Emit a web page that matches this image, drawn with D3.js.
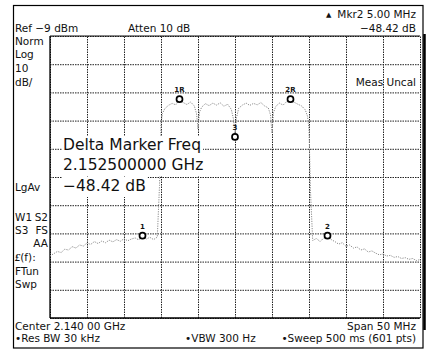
<!DOCTYPE html>
<html><head><meta charset="utf-8">
<script src="https://cdn.jsdelivr.net/npm/d3@7"></script>
<style>
html,body{margin:0;padding:0;background:#fff;}
svg{display:block;}
text{font-family:"DejaVu Sans",sans-serif;fill:#111;}
</style></head>
<body>
<script>
// ---- data ----
const freqTicksMHz = [-25,-20,-15,-10,-5,0,5,10,15,20,25];
const levelTicksDbm = [-9,-19,-29,-39,-49,-59,-69,-79,-89,-99,-109];
const traceFreqMHz = [
 -25,-24.5,-24,-23.5,-23,-22.5,-22,-21.5,-21,-20.5,-20,-19.5,-19,-18.5,-18,-17.5,-17,-16.5,-16,-15.5,
 -15,-14.5,-14,-13.5,-13,-12.5,-12,-11.5,-11,-10.5,-10.2,-10.0,-9.8,-9.5,-9,-8.5,-8,-7.5,-7,-6.5,
 -6,-5.5,-5.2,-5.0,-4.8,-4.5,-4,-3.5,-3,-2.5,-2,-1.5,-1,-0.5,-0.2,0,0.2,0.5,1,1.5,
 2,2.5,3,3.5,4,4.5,4.8,5.0,5.2,5.5,6,6.5,7,7.5,8,8.5,9,9.5,9.8,10.0,
 10.2,10.5,11,11.5,12,12.5,13,13.5,14,14.5,15,15.5,16,16.5,17,17.5,18,18.5,19,19.5,
 20,20.5,21,21.5,22,22.5,23,23.5,24,24.5,25];
const traceDbm = [
 -87.0,-86.2,-85.4,-85.8,-84.6,-84.9,-83.7,-84.2,-83.1,-83.5,-82.4,-82.9,-81.9,-82.6,-81.7,-82.3,-81.4,-82.0,-81.2,-81.8,
 -80.9,-81.6,-81.0,-80.6,-81.3,-79.8,-81.0,-80.4,-81.2,-80.3,-62.0,-40.0,-36.5,-34.8,-33.6,-32.9,-33.4,-31.4,-32.6,-33.3,
 -32.4,-33.8,-36.5,-42.0,-36.0,-34.2,-33.0,-33.7,-32.8,-33.5,-32.7,-33.9,-33.2,-35.0,-38.5,-44.8,-38.0,-34.6,-33.5,-32.8,
 -33.6,-32.9,-33.4,-32.6,-33.8,-34.5,-37.0,-43.5,-36.2,-34.0,-32.8,-33.5,-32.2,-31.4,-32.5,-33.2,-33.8,-35.2,-37.5,-42.0,
 -64.0,-81.5,-80.8,-81.9,-80.6,-79.8,-81.2,-81.9,-82.8,-82.3,-83.6,-83.1,-84.2,-83.8,-84.9,-84.5,-85.6,-85.2,-86.0,-86.6,
 -86.3,-87.0,-86.8,-87.5,-87.2,-87.9,-87.6,-88.2,-87.9,-88.6,-88.3];
const markerLabels = ["1R","2R","3","1","2"];
const markerFreqMHz = [-7.5, 7.5, 0, -12.5, 12.5];
const markerDbm = [-31.4, -31.4, -44.8, -79.8, -79.8];
const leftLabels = ["Norm","Log","10","dB/"];
const statusLabels = ["LgAv"];
const deltaLines = ["Delta Marker Freq","2.152500000 GHz","\u221248.42 dB"];

// ---- layout ----
const W = 426, H = 350;
const svg = d3.select("body").append("svg").attr("width", W).attr("height", H);
const x = d3.scaleLinear().domain([-25, 25]).range([50, 420]);
const y = d3.scaleLinear().domain([-109, -9]).range([318, 36]);

// outer frame
svg.append("rect").attr("x",13.5).attr("y",5.5).attr("width",409.5).attr("height",342.5)
  .attr("fill","none").attr("stroke","#000").attr("stroke-width",1.2);
svg.append("line").attr("x1",424.5).attr("x2",424.5).attr("y1",34).attr("y2",330)
  .attr("stroke","#000").attr("stroke-width",2.5);

// grid via axes
const grid = svg.append("g");
grid.append("g").attr("transform", `translate(0,${y(-109)})`)
  .call(d3.axisBottom(x).tickValues(freqTicksMHz).tickSize(-(y(-109)-y(-9))).tickFormat(""))
  .call(g => g.select(".domain").remove());
grid.append("g").attr("transform", `translate(${x(-25)},0)`)
  .call(d3.axisLeft(y).tickValues(levelTicksDbm).tickSize(-(x(25)-x(-25))).tickFormat(""))
  .call(g => g.select(".domain").remove());
grid.selectAll(".tick line").attr("stroke","#222").attr("stroke-width",1).attr("stroke-dasharray","1.5,1");
// solid borders left / top / bottom
svg.append("line").attr("x1",x(-25)).attr("x2",x(-25)).attr("y1",y(-9)).attr("y2",y(-109)).attr("stroke","#000").attr("stroke-width",1.3);
svg.append("line").attr("x1",x(-25)).attr("x2",x(25)).attr("y1",y(-9)).attr("y2",y(-9)).attr("stroke","#111").attr("stroke-width",1.2);
svg.append("line").attr("x1",x(-25)).attr("x2",x(25)).attr("y1",y(-109)).attr("y2",y(-109)).attr("stroke","#000").attr("stroke-width",1.3);

// trace
const pts = traceFreqMHz.map((f,i)=>[f, traceDbm[i]]);
svg.append("path").datum(pts)
  .attr("d", d3.line().x(d=>x(d[0])).y(d=>y(d[1])))
  .attr("fill","none").attr("stroke","#8c8c8c").attr("stroke-width",1)
  .attr("stroke-dasharray","1.2,1.2");

// markers
const mk = svg.append("g");
markerLabels.forEach((lab,i)=>{
  const cx = x(markerFreqMHz[i]), cy = y(markerDbm[i]);
  mk.append("circle").attr("cx",cx).attr("cy",cy).attr("r",3)
    .attr("fill","#fff").attr("stroke","#000").attr("stroke-width",1.7);
  mk.append("text").attr("x", cx).attr("y", cy-7).attr("text-anchor","middle")
    .attr("font-size",7).attr("font-weight","bold").text(lab);
});

// header text
const small = 10.5;
svg.append("text").attr("x",15).attr("y",32).attr("font-size",small).text("Ref \u22129 dBm");
svg.append("text").attr("x",128).attr("y",32).attr("font-size",small).text("Atten 10 dB");
svg.append("text").attr("x",416).attr("y",18).attr("font-size",small).attr("text-anchor","end").text("Mkr2  5.00 MHz");
svg.append("text").attr("x",326).attr("y",17).attr("font-size",7).text("\u25B2");
svg.append("text").attr("x",416).attr("y",32).attr("font-size",small).attr("text-anchor","end").text("\u221248.42 dB");
leftLabels.forEach((t,i)=>svg.append("text").attr("x",15).attr("y",[45,58,72,86][i]).attr("font-size",small).text(t));
svg.append("text").attr("x",416).attr("y",86).attr("font-size",small).attr("text-anchor","end").text("Meas Uncal");
svg.append("text").attr("x",15).attr("y",191).attr("font-size",small).text(statusLabels[0]);
svg.append("text").attr("x",15).attr("y",221).attr("font-size",small).text("W1");
svg.append("text").attr("x",48).attr("y",221).attr("font-size",small).attr("text-anchor","end").text("S2");
svg.append("text").attr("x",15).attr("y",234).attr("font-size",small).text("S3");
svg.append("text").attr("x",48).attr("y",234).attr("font-size",small).attr("text-anchor","end").text("FS");
svg.append("text").attr("x",48).attr("y",247).attr("font-size",small).attr("text-anchor","end").text("AA");
svg.append("text").attr("x",15).attr("y",261).attr("font-size",small).html('<tspan font-weight="bold" font-family="Liberation Serif" font-style="italic">\u00A3</tspan>(f):');
svg.append("text").attr("x",15).attr("y",275).attr("font-size",small).text("FTun");
svg.append("text").attr("x",15).attr("y",288).attr("font-size",small).text("Swp");

// footer
svg.append("text").attr("x",15).attr("y",330).attr("font-size",small).text("Center 2.140 00 GHz");
svg.append("text").attr("x",416).attr("y",330).attr("font-size",small).attr("text-anchor","end").text("Span 50 MHz");
svg.append("text").attr("x",15).attr("y",342).attr("font-size",small).text("\u2022Res BW 30 kHz");
svg.append("text").attr("x",185).attr("y",342).attr("font-size",small).text("\u2022VBW 300 Hz");
svg.append("text").attr("x",416).attr("y",342).attr("font-size",small).attr("text-anchor","end").text("\u2022Sweep 500 ms (601 pts)");

// delta marker box
const db = svg.append("g");
[150,170,191].forEach((by,i)=>{
  const t = db.append("text").attr("x",63).attr("y",by).attr("font-size",15.5).text(deltaLines[i]);
  const bb = t.node().getBBox();
  db.insert("rect","text").attr("x",bb.x-1).attr("y",by-14).attr("width",bb.width+3).attr("height",20).attr("fill","#fff");
});
</script>
</body></html>
